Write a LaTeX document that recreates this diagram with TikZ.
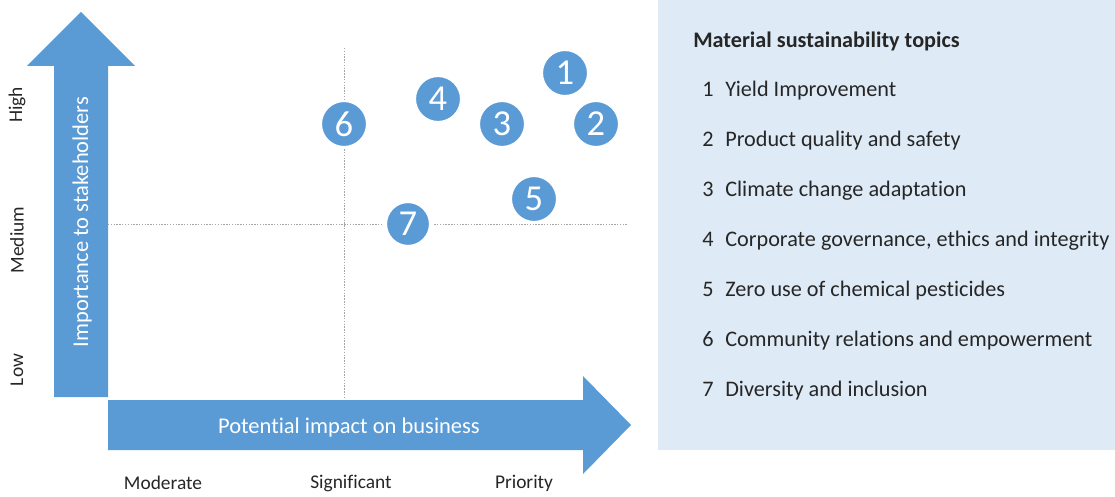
\documentclass[tikz,border=0pt]{standalone}
\usepackage{fontspec}
\setmainfont{Carlito}[Ligatures=NoCommon]
\usetikzlibrary{positioning}

\definecolor{topicblue}{HTML}{5B9BD5}
\definecolor{panelblue}{HTML}{DEEBF7}
\definecolor{darktext}{HTML}{262626}

\newcommand{\topicnum}[1]{\makebox[0.575cm][l]{#1}}

\begin{document}
\begin{tikzpicture}[
    x=0.025cm,
    y=-0.025cm,
    node distance=1.25cm,
    topic/.style={
        circle,
        fill=topicblue,
        draw=white,
        line width=1.5pt,
        minimum size=1.15cm,
        inner sep=0pt,
        text=white,
        font=\fontsize{26}{26}\selectfont
    },
    ratelabel/.style={
        text=darktext,
        inner sep=0pt,
        font=\fontsize{13.8}{16}\selectfont
    },
    axistext/.style={
        text=white,
        inner sep=0pt,
        font=\fontsize{16}{19}\selectfont
    },
    topicitem/.style={
        anchor=west,
        inner sep=0pt,
        text=darktext,
        text height=11pt,
        text depth=3pt,
        font=\fontsize{15.8}{19}\selectfont
    },
    guide/.style={
        gray!70,
        line width=0.6pt,
        dash pattern=on 1pt off 1pt
    }
]
\useasboundingbox (0,0) rectangle (1115,497);

\node[fill=panelblue, anchor=north west, minimum width=11.425cm,
      minimum height=11.25cm, inner sep=0pt] (panel) at (658,0) {};

\fill[topicblue] (54,397) -- (54,66) -- (27,66) -- (81,12) -- (135,66)
    -- (108,66) -- (108,397) -- cycle;
\fill[topicblue] (108,400) -- (583,400) -- (583,376) -- (631,425)
    -- (583,474) -- (583,450) -- (108,450) -- cycle;

\node[axistext, rotate=90] (importance) at (82,222) {Importance to stakeholders};
\node[axistext] (impact) at (349,427) {Potential impact on business};

\node[ratelabel, rotate=90] (high) at (17,105) {High};
\node[ratelabel, rotate=90] (medium) at (17,240) {Medium};
\node[ratelabel, rotate=90] (low) at (17,370) {Low};

\node[ratelabel] (moderate) at (163,483) {Moderate};
\node[ratelabel] (significant) at (351,483) {Significant};
\node[ratelabel] (priority) at (524,483) {Priority};

\coordinate (vtop) at (344,48);
\coordinate (vbot) at (344,398);
\coordinate (hleft) at (108,224);
\coordinate (hright) at (628,224);
\draw[guide] (vtop) -- (vbot);
\draw[guide] (hleft) -- (hright);

\node[topic] (t1) at (565,73) {1};
\node[topic] (t2) at (596,124) {2};
\node[topic] (t3) at (502,124) {3};
\node[topic] (t4) at (438,99) {4};
\node[topic] (t5) at (534,199) {5};
\node[topic] (t6) at (344,124) {6};
\node[topic, line width=3pt] (t7) at (408,224) {7};

\node[topicitem, font=\bfseries\fontsize{15.8}{19}\selectfont] (title) at (693,42)
{Material sustainability topics};

\node[topicitem, below=1.225cm of title.west, anchor=west, xshift=0.225cm] (i1)
{\topicnum{1}Yield Improvement};

\node[topicitem, below=of i1.west, anchor=west] (i2)
{\topicnum{2}Product quality and safety};

\node[topicitem, below=of i2.west, anchor=west] (i3)
{\topicnum{3}Climate change adaptation};

\node[topicitem, below=of i3.west, anchor=west] (i4)
{\topicnum{4}Corporate governance, ethics and integrity};

\node[topicitem, below=of i4.west, anchor=west] (i5)
{\topicnum{5}Zero use of chemical pesticides};

\node[topicitem, below=of i5.west, anchor=west] (i6)
{\topicnum{6}Community relations and empowerment};

\node[topicitem, below=of i6.west, anchor=west] (i7)
{\topicnum{7}Diversity and inclusion};
\end{tikzpicture}
\end{document}
